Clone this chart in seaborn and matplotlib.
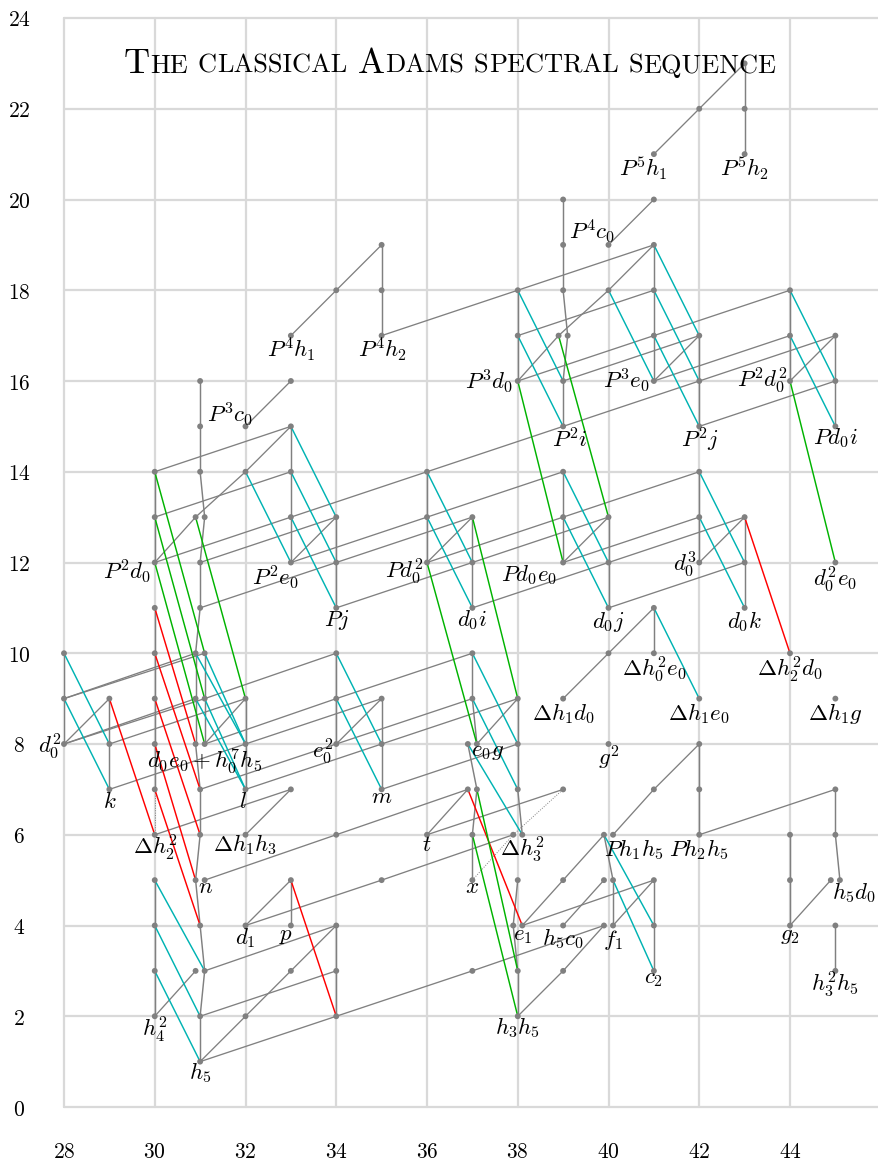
import numpy as np
import pandas as pd
import matplotlib
matplotlib.use("Agg")
import matplotlib.pyplot as plt
import seaborn as sns
from matplotlib.collections import LineCollection
from matplotlib.offsetbox import TextArea, HPacker, DrawingArea, AnnotationBbox

# ---------------- data ----------------
# classes: (stem, filtration[, slot]) ; slot -1/+1 = two classes in one bidegree
classes = [
    (28, 8), (28, 9), (28, 10),
    (29, 7), (29, 8), (29, 9),
    (30, 2), (30, 3), (30, 4), (30, 5), (30, 6), (30, 7), (30, 8), (30, 9), (30, 10), (30, 11),
    (30, 12), (30, 13), (30, 14),
    (31, 1), (31, 2), (31, 3, -1), (31, 3, 1), (31, 4), (31, 5, -1), (31, 5, 1), (31, 6), (31, 7),
    (31, 8, -1), (31, 8, 1), (31, 9, -1), (31, 9, 1), (31, 10, -1), (31, 10, 1), (31, 11), (31, 12),
    (31, 13, -1), (31, 13, 1), (31, 14), (31, 15), (31, 16),
    (32, 2), (32, 4), (32, 6), (32, 7), (32, 8), (32, 9), (32, 14), (32, 15),
    (33, 3), (33, 4), (33, 5), (33, 7), (33, 12), (33, 13), (33, 14), (33, 15), (33, 16), (33, 17),
    (34, 2), (34, 3), (34, 4), (34, 6), (34, 8), (34, 9), (34, 10), (34, 11), (34, 12), (34, 13), (34, 18),
    (35, 5), (35, 7), (35, 8), (35, 9), (35, 17), (35, 18), (35, 19),
    (36, 6), (36, 12), (36, 13), (36, 14),
    (37, 3), (37, 5), (37, 6), (37, 7, -1), (37, 7, 1), (37, 8, -1), (37, 8, 1), (37, 9), (37, 10),
    (37, 11), (37, 12), (37, 13),
    (38, 2), (38, 3), (38, 4, -1), (38, 4, 1), (38, 5), (38, 6, -1), (38, 6, 1), (38, 7), (38, 8), (38, 9),
    (38, 16), (38, 17), (38, 18),
    (39, 3), (39, 4), (39, 5), (39, 7), (39, 9), (39, 12), (39, 13), (39, 14), (39, 15), (39, 16),
    (39, 17, -1), (39, 17, 1), (39, 18), (39, 19), (39, 20),
    (40, 4, -1), (40, 4, 1), (40, 5, -1), (40, 5, 1), (40, 6, -1), (40, 6, 1), (40, 8), (40, 10),
    (40, 11), (40, 12), (40, 13), (40, 18), (40, 19),
    (41, 3), (41, 4), (41, 5), (41, 7), (41, 10), (41, 11), (41, 16), (41, 17), (41, 18), (41, 19),
    (41, 20), (41, 21),
    (42, 6), (42, 7), (42, 8), (42, 9), (42, 12), (42, 13), (42, 14), (42, 15), (42, 16), (42, 17), (42, 22),
    (43, 11), (43, 12), (43, 13), (43, 21), (43, 22), (43, 23),
    (44, 4), (44, 5), (44, 6), (44, 10), (44, 16), (44, 17), (44, 18),
    (45, 3), (45, 4), (45, 5, -1), (45, 5, 1), (45, 6), (45, 7), (45, 9), (45, 12), (45, 15), (45, 16), (45, 17),
]

h0_edges = [
    ((28, 8), (28, 9)), ((28, 9), (28, 10)), ((29, 7), (29, 8)), ((29, 8), (29, 9)),
    ((30, 2), (30, 3)), ((30, 3), (30, 4)), ((30, 4), (30, 5)), ((30, 7), (30, 8)), ((30, 8), (30, 9)),
    ((30, 9), (30, 10)), ((30, 10), (30, 11)), ((30, 12), (30, 13)), ((30, 13), (30, 14)),
    ((31, 1), (31, 2)), ((31, 2), (31, 3, 1)), ((31, 3, 1), (31, 4)), ((31, 4), (31, 5, -1)),
    ((31, 5, -1), (31, 6)), ((31, 6), (31, 7)), ((31, 7), (31, 8, -1)), ((31, 8, -1), (31, 9, -1)),
    ((31, 9, -1), (31, 10, -1)), ((31, 10, -1), (31, 11)), ((31, 11), (31, 12)), ((31, 12), (31, 13, 1)),
    ((31, 13, 1), (31, 14)), ((31, 14), (31, 15)), ((31, 15), (31, 16)),
    ((31, 8, 1), (31, 9, 1)), ((31, 9, 1), (31, 10, 1)),
    ((32, 7), (32, 8)), ((32, 8), (32, 9)),
    ((33, 4), (33, 5)), ((33, 12), (33, 13)), ((33, 13), (33, 14)), ((33, 14), (33, 15)),
    ((34, 2), (34, 3)), ((34, 3), (34, 4)), ((34, 8), (34, 9)), ((34, 9), (34, 10)),
    ((34, 11), (34, 12)), ((34, 12), (34, 13)),
    ((35, 7), (35, 8)), ((35, 8), (35, 9)), ((35, 17), (35, 18)), ((35, 18), (35, 19)),
    ((36, 12), (36, 13)), ((36, 13), (36, 14)),
    ((37, 5), (37, 6)), ((37, 6), (37, 7, 1)), ((37, 7, 1), (37, 8, -1)), ((37, 8, 1), (37, 9)),
    ((37, 9), (37, 10)), ((37, 11), (37, 12)), ((37, 12), (37, 13)),
    ((38, 2), (38, 3)), ((38, 3), (38, 4, -1)), ((38, 4, -1), (38, 5)), ((38, 6, 1), (38, 7)),
    ((38, 7), (38, 8)), ((38, 8), (38, 9)), ((38, 16), (38, 17)), ((38, 17), (38, 18)),
    ((39, 12), (39, 13)), ((39, 13), (39, 14)), ((39, 15), (39, 16)), ((39, 16), (39, 17, 1)),
    ((39, 17, 1), (39, 18)), ((39, 18), (39, 19)), ((39, 19), (39, 20)),
    ((40, 4, 1), (40, 5, 1)), ((40, 5, 1), (40, 6, -1)), ((40, 11), (40, 12)), ((40, 12), (40, 13)),
    ((41, 3), (41, 4)), ((41, 4), (41, 5)), ((41, 10), (41, 11)), ((41, 16), (41, 17)),
    ((41, 17), (41, 18)), ((41, 18), (41, 19)),
    ((42, 6), (42, 7)), ((42, 7), (42, 8)), ((42, 12), (42, 13)), ((42, 13), (42, 14)),
    ((42, 15), (42, 16)), ((42, 16), (42, 17)),
    ((43, 11), (43, 12)), ((43, 12), (43, 13)), ((43, 21), (43, 22)), ((43, 22), (43, 23)),
    ((44, 4), (44, 5)), ((44, 5), (44, 6)), ((44, 16), (44, 17)), ((44, 17), (44, 18)),
    ((45, 3), (45, 4)), ((45, 5, 1), (45, 6)), ((45, 6), (45, 7)), ((45, 15), (45, 16)), ((45, 16), (45, 17)),
]

h1_edges = [
    ((28, 8), (29, 9)), ((30, 2), (31, 3, -1)),
    ((30, 12), (31, 13, -1)), ((31, 13, -1), (32, 14)), ((32, 14), (33, 15)),
    ((31, 1), (32, 2)), ((32, 2), (33, 3)), ((33, 3), (34, 4)),
    ((31, 8, 1), (32, 9)), ((32, 4), (33, 5)), ((32, 6), (33, 7)), ((32, 15), (33, 16)),
    ((33, 12), (34, 13)), ((33, 17), (34, 18)), ((34, 18), (35, 19)), ((34, 8), (35, 9)),
    ((36, 6), (37, 7, -1)), ((36, 12), (37, 13)), ((37, 8, 1), (38, 9)),
    ((38, 2), (39, 3)), ((39, 3), (40, 4, -1)), ((38, 4, 1), (39, 5)), ((39, 5), (40, 6, -1)),
    ((39, 4), (40, 5, -1)), ((40, 4, 1), (41, 5)), ((40, 6, 1), (41, 7)), ((41, 7), (42, 8)),
    ((38, 16), (39, 17, -1)), ((39, 17, -1), (40, 18)), ((40, 18), (41, 19)),
    ((39, 9), (40, 10)), ((40, 10), (41, 11)), ((39, 12), (40, 13)), ((40, 19), (41, 20)),
    ((41, 16), (42, 17)), ((41, 21), (42, 22)), ((42, 22), (43, 23)), ((42, 12), (43, 13)),
    ((44, 4), (45, 5, -1)), ((44, 16), (45, 17)),
]

h2_edges = [
    ((28, 8), (31, 9, -1)), ((28, 8), (31, 9, 1)), ((28, 9), (31, 10, -1)), ((28, 9), (31, 10, 1)),
    ((29, 7), (32, 8)), ((29, 8), (32, 9)), ((30, 6), (33, 7)),
    ((30, 12), (33, 13)), ((30, 13), (33, 14)), ((30, 14), (33, 15)),
    ((31, 1), (34, 2)), ((31, 2), (34, 3)), ((31, 3, 1), (34, 4)), ((31, 5, 1), (34, 6)),
    ((31, 7), (34, 8)), ((31, 8, 1), (34, 9)), ((31, 9, 1), (34, 10)),
    ((31, 11), (34, 12)), ((31, 12), (34, 13)), ((32, 4), (35, 5)),
    ((32, 7), (35, 8)), ((32, 8), (35, 9)), ((33, 12), (36, 13)), ((33, 13), (36, 14)),
    ((34, 2), (37, 3)), ((34, 6), (37, 7, -1)), ((34, 8), (37, 9)), ((34, 9), (37, 10)),
    ((34, 11), (37, 12)), ((34, 12), (37, 13)), ((35, 5), (38, 6, -1)),
    ((35, 7), (38, 8)), ((35, 8), (38, 9)), ((35, 17), (38, 18)), ((36, 6), (39, 7)),
    ((36, 12), (39, 13)), ((36, 13), (39, 14)), ((36, 14), (39, 15)), ((37, 3), (40, 4, -1)),
    ((37, 11), (40, 12)), ((37, 12), (40, 13)), ((38, 4, 1), (41, 5)),
    ((38, 16), (41, 17)), ((38, 17), (41, 18)), ((38, 18), (41, 19)),
    ((39, 12), (42, 13)), ((39, 13), (42, 14)), ((39, 15), (42, 16)), ((39, 16), (42, 17)),
    ((40, 11), (43, 12)), ((40, 12), (43, 13)), ((41, 16), (44, 17)), ((41, 17), (44, 18)),
    ((42, 6), (45, 7)), ((42, 15), (45, 16)), ((42, 16), (45, 17)),
]

dotted_edges = [((30, 6), (30, 7)), ((37, 5), (38, 6, -1)), ((38, 6, -1), (39, 7))]

d2_edges = [
    ((29, 7), (28, 9)), ((29, 8), (28, 10)), ((31, 1), (30, 3)), ((31, 2), (30, 4)), ((31, 3, 1), (30, 5)),
    ((32, 7), (31, 9, -1)), ((32, 7), (31, 9, 1)), ((32, 8), (31, 10, -1)), ((32, 8), (31, 10, 1)),
    ((33, 12), (32, 14)), ((34, 11), (33, 13)), ((34, 12), (33, 14)), ((34, 13), (33, 15)),
    ((35, 7), (34, 9)), ((35, 8), (34, 10)), ((37, 11), (36, 13)), ((37, 12), (36, 14)),
    ((38, 6, 1), (37, 8, -1)), ((38, 7), (37, 9)), ((38, 8), (37, 10)),
    ((39, 15), (38, 17)), ((39, 16), (38, 18)), ((40, 11), (39, 13)), ((40, 12), (39, 14)),
    ((41, 16), (40, 18)), ((41, 3), (40, 5, 1)), ((41, 4), (40, 6, -1)), ((42, 9), (41, 11)),
    ((42, 15), (41, 17)), ((42, 16), (41, 18)), ((42, 17), (41, 19)),
    ((43, 11), (42, 13)), ((43, 12), (42, 14)), ((45, 15), (44, 17)), ((45, 16), (44, 18)),
]

d3_edges = [
    ((30, 6), (29, 9)), ((31, 4), (30, 7)), ((31, 5, -1), (30, 8)), ((31, 6), (30, 9)),
    ((31, 7), (30, 10)), ((31, 8, -1), (30, 11)), ((34, 2), (33, 5)), ((38, 4, 1), (37, 7, -1)),
    ((44, 10), (43, 13)),
]

d4_edges = [
    ((31, 8, 1), (30, 12)), ((31, 9, 1), (30, 13)), ((31, 10, 1), (30, 14)), ((32, 9), (31, 13, -1)),
    ((37, 8, 1), (36, 12)), ((38, 9), (37, 13)), ((38, 2), (37, 6)), ((38, 3), (37, 7, 1)),
    ((39, 12), (38, 16)), ((40, 13), (39, 17, -1)), ((45, 12), (44, 16)),
]

label_classes = [
    (41, 21), (43, 21), (40, 19), (33, 17), (35, 17), (38, 16), (41, 16), (44, 16), (39, 15), (42, 15),
    (45, 15), (32, 15), (30, 12), (33, 12), (36, 12), (39, 12), (42, 12), (45, 12), (34, 11), (37, 11),
    (40, 11), (43, 11), (41, 10), (44, 10), (39, 9), (42, 9), (45, 9), (28, 8), (31, 8, 1), (34, 8),
    (37, 8, 1), (40, 8), (29, 7), (32, 7), (35, 7), (30, 6), (32, 6), (36, 6), (38, 6, 1), (40, 6, 1),
    (42, 6), (31, 5, 1), (37, 5), (45, 5, 1), (32, 4), (33, 4), (38, 4, 1), (39, 4), (40, 4, 1), (44, 4),
    (41, 3), (45, 3), (30, 2), (38, 2), (31, 1),
]
label_texts = [
    r"$P^5h_1$", r"$P^5h_2$", r"$P^4c_0$", r"$P^4h_1$", r"$P^4h_2$", r"$P^3d_0$", r"$P^3e_0$",
    r"$P^2d_0^2$", r"$P^2i$", r"$P^2j$", r"$Pd_0i$", r"$P^3c_0$", r"$P^2d_0$", r"$P^2e_0$",
    r"$Pd_0^2$", r"$Pd_0e_0$", r"$d_0^3$", r"$d_0^2e_0$", r"$Pj$", r"$d_0i$", r"$d_0j$", r"$d_0k$",
    r"$\Delta h_0^2e_0$", r"$\Delta h_2^2d_0$", r"$\Delta h_1d_0$", r"$\Delta h_1e_0$", r"$\Delta h_1g$",
    r"$d_0^2$", r"$d_0e_0+h_0^7h_5$", r"$e_0^2$", r"$e_0g$", r"$g^2$", r"$k$", r"$l$", r"$m$",
    r"$\Delta h_2^2$", r"$\Delta h_1h_3$", r"$t$", r"$\Delta h_3^2$", r"$Ph_1h_5$", r"$Ph_2h_5$",
    r"$n$", r"$x$", r"$h_5d_0$", r"$d_1$", r"$p$", r"$e_1$", r"$h_5c_0$", r"$f_1$", r"$g_2$",
    r"$c_2$", r"$h_3^2h_5$", r"$h_4^2$", r"$h_3h_5$", r"$h_5$",
]

x_ticks = [28, 30, 32, 34, 36, 38, 40, 42, 44]
y_ticks = [0, 2, 4, 6, 8, 10, 12, 14, 16, 18, 20, 22, 24]
title_words = ["The", "classical", "Adams", "spectral", "sequence"]

# ---------------- layout / style (not data) ----------------
SLOT_SHIFT = 0.1
label_offsets = [
    (-0.24, -0.31), (0, -0.31), (-0.37, 0.28), (0.02, -0.32), (0.03, -0.32), (-0.63, -0.02),
    (-0.6, 0), (-0.62, 0), (0.15, -0.3), (0.02, -0.3), (0, -0.26), (-0.34, 0.25), (-0.61, -0.21),
    (-0.35, -0.34), (-0.51, -0.21), (-0.75, -0.27), (-0.31, -0.06), (0, -0.39), (0.02, -0.27),
    (0, -0.27), (0, -0.31), (0, -0.31), (0, -0.37), (0, -0.37), (0, -0.32), (0, -0.32), (0, -0.32),
    (-0.31, -0.07), (0, -0.4), (-0.31, -0.18), (0.24, -0.15), (0, -0.31), (0, -0.28), (-0.05, -0.28),
    (0, -0.17), (0, -0.29), (0, -0.22), (0, -0.22), (0, -0.33), (0.46, -0.33), (0, -0.33),
    (0.03, -0.15), (0, -0.15), (0.31, -0.28), (0, -0.28), (-0.11, -0.21), (0, -0.21), (0, -0.28),
    (0, -0.32), (0, -0.21), (0, -0.16), (0, -0.31), (0, -0.3), (0, -0.26), (0, -0.25),
]


def pos(c):
    slot = c[2] if len(c) > 2 else 0
    return (c[0] + SLOT_SHIFT * slot, c[1])


sns.set_style("white")
plt.rcParams['mathtext.fontset'] = 'cm'
plt.rcParams['font.family'] = ['DejaVu Serif']

W, H = 879, 1167
fig = plt.figure(figsize=(W / 100, H / 100), dpi=100)
ax = fig.add_axes([64 / W, 60 / H, (W - 64) / W, 1089 / H])

grey = (0.5, 0.5, 0.5)
cyan = (0.0, 0.7, 0.7)
red = (1.0, 0.0, 0.0)
green = (0.0, 0.7, 0.0)


def add_edges(edges, color, lw, ls='-', z=2):
    segs = [[pos(a), pos(b)] for a, b in edges]
    lc = LineCollection(segs, colors=[color], linewidths=lw, linestyles=ls, zorder=z)
    ax.add_collection(lc)


add_edges(h0_edges, grey, 1.05)
add_edges(h1_edges, grey, 0.95)
add_edges(h2_edges, grey, 0.95)
add_edges(dotted_edges, grey, 0.7, ls=(0, (1, 1.5)))
add_edges(d2_edges, cyan, 1.05, z=2.5)
add_edges(d3_edges, red, 1.05, z=2.5)
add_edges(d4_edges, green, 1.05, z=2.5)

df = pd.DataFrame([pos(c) for c in classes], columns=["stem", "filtration"])
sns.scatterplot(data=df, x="stem", y="filtration", color=grey, s=18, edgecolor="none",
                ax=ax, zorder=3, clip_on=False, legend=False)

for c, t, (dx, dy) in zip(label_classes, label_texts, label_offsets):
    px, py = pos(c)
    ax.text(px + dx, py + dy, t, fontsize=16.5, ha="center", va="center", color="black", zorder=4)

ax.set_xlim(28, 28 + (W - 64) / 45.375)
ax.set_ylim(0, 24)
ax.set_xticks(x_ticks)
ax.set_xticklabels([f"${v}$" for v in x_ticks])
ax.set_yticks(y_ticks)
ax.set_yticklabels([f"${v}$" for v in y_ticks])
ax.tick_params(axis="both", length=0, labelsize=15.5, colors="black")
ax.tick_params(axis="x", pad=32.4)
ax.tick_params(axis="y", pad=32.4)
plt.setp(ax.get_yticklabels(), ha="center")
plt.setp(ax.get_xticklabels(), va="center")
ax.set_xlabel("")
ax.set_ylabel("")
ax.grid(True, color="#d9d9d9", lw=1.6)
ax.set_axisbelow(True)
for gl in ax.get_xgridlines() + ax.get_ygridlines():
    gl.set_clip_on(False)
for sp in ax.spines.values():
    sp.set_visible(False)

# small-caps title
big = dict(fontfamily="cmr10", fontsize=26, color="black")
small = dict(fontfamily="cmr10", fontsize=19, color="black")
parts = []
for i, w in enumerate(title_words):
    if i > 0:
        parts.append(DrawingArea(7.5, 1))
    first, rest = w[0], w[1:]
    if first.isupper():
        parts.append(TextArea(first, textprops=big))
    else:
        parts.append(TextArea(first.upper(), textprops=small))
    parts.append(TextArea(rest.upper(), textprops=small))
pack = HPacker(children=parts, align="baseline", pad=0, sep=0)
ab = AnnotationBbox(pack, (450 / W, 1 - 64 / H), xycoords="figure fraction",
                    frameon=False, box_alignment=(0.5, 0.5), pad=0)
ab.set_clip_on(False)
ax.add_artist(ab)

fig.savefig("out.png", dpi=100)
